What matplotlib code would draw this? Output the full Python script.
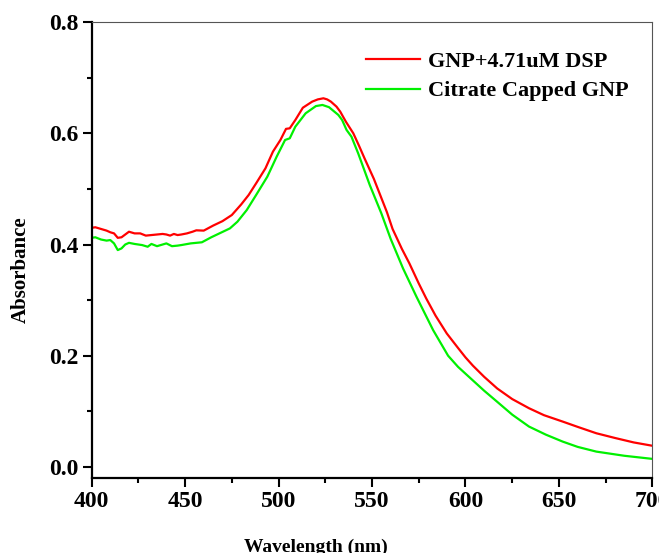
import numpy as np
import matplotlib.pyplot as plt
from matplotlib.ticker import MultipleLocator

plt.rcParams['font.family'] = ['Liberation Serif', 'DejaVu Serif']
plt.rcParams['font.weight'] = 'bold'

# GNP + 4.71uM DSP (red)
wl_dsp = [400, 402, 405, 408, 410, 412, 414, 416, 418, 420, 423, 426, 429, 432,
          435, 438, 440, 442, 444, 446, 448, 451, 454, 456, 460, 465, 470, 475,
          480, 484, 488, 493, 497, 501, 504, 506, 509, 513, 518, 521, 524, 526,
          528, 531, 533, 536, 540, 543, 546, 551, 558, 561, 566, 570, 575, 579,
          584, 590, 596, 600, 604, 610, 617, 625, 634, 642, 652, 660, 670, 680,
          690, 700]
abs_dsp = [0.430, 0.431, 0.428, 0.425, 0.422, 0.420, 0.412, 0.413, 0.418, 0.423,
           0.420, 0.420, 0.416, 0.417, 0.418, 0.419, 0.418, 0.416, 0.419, 0.417,
           0.418, 0.420, 0.423, 0.4255, 0.425, 0.434, 0.442, 0.453, 0.472, 0.489,
           0.510, 0.537, 0.567, 0.588, 0.608, 0.609, 0.624, 0.646, 0.657, 0.661,
           0.663, 0.661, 0.657, 0.648, 0.639, 0.621, 0.600, 0.578, 0.555, 0.518,
           0.458, 0.428, 0.392, 0.366, 0.330, 0.303, 0.272, 0.240, 0.214, 0.197,
           0.182, 0.162, 0.141, 0.122, 0.1055, 0.093, 0.0815, 0.072, 0.0605,
           0.052, 0.044, 0.038]

# Citrate capped GNP (green)
wl_cit = [400, 402, 405, 408, 410, 412, 414, 416, 418, 420, 423, 427, 430, 432,
          435, 438, 440, 443, 446, 448, 453, 459, 464, 469, 474, 478, 483, 488,
          494, 499, 503.5, 506, 509, 514.5, 520, 523.5, 527, 532, 534, 536.4,
          539, 542.6, 548.8, 555, 560, 566.6, 573.8, 582.7, 590.7,
          596, 602.5, 610, 617, 625, 634, 643, 652, 660, 670, 685, 700]
abs_cit = [0.412, 0.413, 0.409, 0.407, 0.408, 0.402, 0.390, 0.393, 0.400, 0.403,
           0.401, 0.399, 0.396, 0.401, 0.397, 0.400, 0.402, 0.397, 0.398, 0.399,
           0.402, 0.404, 0.413, 0.421, 0.429, 0.441, 0.462, 0.489, 0.522, 0.558,
           0.588, 0.591, 0.612, 0.636, 0.649, 0.651, 0.647, 0.633, 0.624, 0.606,
           0.594, 0.564, 0.507, 0.456, 0.410, 0.357, 0.306, 0.246, 0.200,
           0.180, 0.160, 0.137, 0.117, 0.094, 0.0725, 0.058, 0.0455, 0.036,
           0.0275, 0.020, 0.0144]

fig = plt.figure(figsize=(6.59, 5.53), dpi=100)
ax = fig.add_axes([0.139, 0.1356, 0.851, 0.8244])

ax.plot(wl_dsp, abs_dsp, color='#ff0000', lw=1.6, label='GNP+4.71uM DSP')
ax.plot(wl_cit, abs_cit, color='#00f000', lw=1.6, label='Citrate Capped GNP')

ax.set_xlim(400, 700)
ax.set_ylim(-0.02, 0.8)
ax.xaxis.set_major_locator(MultipleLocator(50))
ax.xaxis.set_minor_locator(MultipleLocator(25))
ax.yaxis.set_major_locator(MultipleLocator(0.2))
ax.yaxis.set_minor_locator(MultipleLocator(0.1))
ax.yaxis.set_major_formatter(plt.FuncFormatter(lambda v, p: '%.1f' % v))

ax.spines['left'].set_linewidth(1.6)
ax.spines['bottom'].set_linewidth(1.6)
ax.spines['top'].set_linewidth(0.8)
ax.spines['right'].set_linewidth(0.8)
ax.spines['top'].set_color('#555555')
ax.spines['right'].set_color('#555555')

ax.tick_params(which='major', direction='out', length=6.5, width=1.5,
               labelsize=17, pad=3)
ax.tick_params(which='minor', direction='out', length=3.5, width=1.5)
ax.tick_params(top=False, right=False, which='both')

ax.set_xlabel('Wavelength (nm)', fontsize=14, fontweight='bold')
ax.set_ylabel('Absorbance', fontsize=15, fontweight='bold')
ax.xaxis.set_label_coords(0.40, -0.134)
ax.yaxis.set_label_coords(-0.108, 0.458)

ax.legend(loc='upper left', bbox_to_anchor=(0.49, 0.936), frameon=False,
          fontsize=16, handlelength=2.4, handletextpad=0.35, labelspacing=0.4,
          borderpad=0, borderaxespad=0)

fig.savefig('out.png', dpi=100)
